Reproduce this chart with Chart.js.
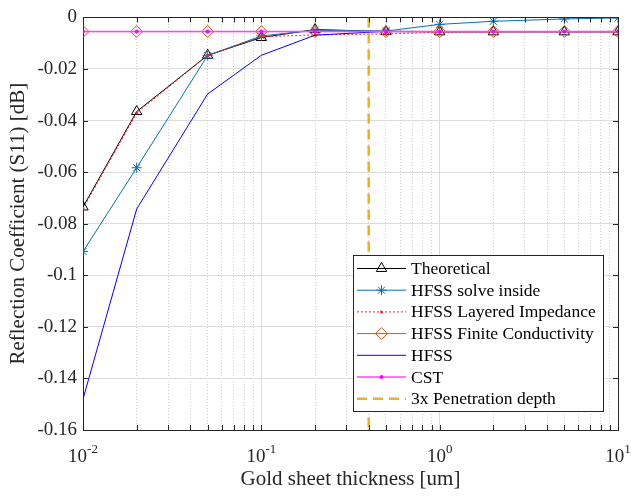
<!DOCTYPE html>
<html>
<head>
<meta charset="utf-8">
<script src="https://cdn.jsdelivr.net/npm/chart.js@4.4.1/dist/chart.umd.min.js"></script>
<style>
html, body { margin: 0; padding: 0; background: #fff; }
</style>
</head>
<body>
<canvas id="canvas" width="631" height="496"></canvas>
<script>
// gold sheet thickness [um]
var thickness = [0.01, 0.02, 0.05, 0.1, 0.2, 0.5, 1, 2, 5, 10];

// S11 [dB] for each series
var theoretical  = [-0.0735, -0.0365, -0.0147, -0.0078, -0.0047, -0.0055, -0.0056, -0.0056, -0.0056, -0.0056];
var solveInside  = [-0.0908, -0.0583, -0.0148, -0.0072, -0.0050, -0.0053, -0.0027, -0.0015, -0.0006, -0.0002];
var layered      = [-0.0742, -0.0371, -0.0147, -0.0075, -0.0068, -0.0064, -0.0058, -0.0056, -0.0056, -0.0056];
var finiteCond   = [-0.0055, -0.0055, -0.0055, -0.0055, -0.0055, -0.0055, -0.0055, -0.0055, -0.0055, -0.0055];
var hfss         = [-0.1480, -0.0743, -0.0297, -0.0147, -0.0069, -0.0054, -0.0055, -0.0055, -0.0055, -0.0055];
var cst          = [-0.0055, -0.0055, -0.0055, -0.0055, -0.0055, -0.0055, -0.0055, -0.0055, -0.0055, -0.0055];

// 3x penetration depth marker
var penX = [0.4, 0.4];
var penY = [0, -0.16];

// ticks
var xMajorTicks = [0.01, 0.1, 1, 10];
var xMajorExp = ['-2', '-1', '0', '1'];
var xMinorTicks = [0.02, 0.03, 0.04, 0.05, 0.06, 0.07, 0.08, 0.09,
                   0.2, 0.3, 0.4, 0.5, 0.6, 0.7, 0.8, 0.9,
                   2, 3, 4, 5, 6, 7, 8, 9];
var yTicks = [0, -0.02, -0.04, -0.06, -0.08, -0.1, -0.12, -0.14, -0.16];

var FONT = 'Liberation Serif';
var AXC = '#262626';

function pts(xs, ys){
    var out = [];
    for(var i = 0; i < xs.length; i++){
        out.push({x: xs[i], y: ys[i]});
    }
    return out;
}

var series = [
    {label: 'Theoretical', data: pts(thickness, theoretical), borderColor: '#000000', borderWidth: 1,
     pointStyle: 'triangle', pointRadius: 6, pointBorderColor: '#000000', pointBackgroundColor: 'rgba(0,0,0,0)', pointBorderWidth: 1},
    {label: 'HFSS solve inside', data: pts(thickness, solveInside), borderColor: '#0072BD', borderWidth: 1,
     pointStyle: 'star', pointRadius: 5, pointBorderColor: '#0072BD', pointBackgroundColor: 'rgba(0,0,0,0)', pointBorderWidth: 1},
    {label: 'HFSS Layered Impedance', data: pts(thickness, layered), borderColor: '#ff2020', borderWidth: 1, borderDash: [2, 2],
     pointStyle: 'circle', pointRadius: 1.5, pointBorderColor: '#ff2020', pointBackgroundColor: '#ff2020', pointBorderWidth: 0},
    {label: 'HFSS Finite Conductivity', data: pts(thickness, finiteCond), borderColor: '#D95319', borderWidth: 1,
     pointStyle: 'rectRot', pointRadius: 6, pointBorderColor: '#D95319', pointBackgroundColor: 'rgba(0,0,0,0)', pointBorderWidth: 1},
    {label: 'HFSS', data: pts(thickness, hfss), borderColor: '#0000ff', borderWidth: 1,
     pointRadius: 0},
    {label: 'CST', data: pts(thickness, cst), borderColor: '#ff44ff', borderWidth: 1.5,
     pointStyle: 'circle', pointRadius: 2, pointBorderColor: '#ff00ff', pointBackgroundColor: '#ff00ff', pointBorderWidth: 0},
    {label: '3x Penetration depth', data: pts(penX, penY), borderColor: '#EDB120', borderWidth: 2.5, borderDash: [10, 6],
     pointRadius: 0}
];

// matlab draws later series on top
for(var i = 0; i < series.length; i++){
    series[i].order = series.length - i;
    series[i].showLine = true;
    series[i].tension = 0;
    series[i].fill = false;
}

var extras = {
    id: 'extras',
    afterDraw: function(chart){
        var ctx = chart.ctx;
        var xs = chart.scales.x, ys = chart.scales.y;
        var a = chart.chartArea;
        ctx.save();

        // inward tick marks on all four sides
        ctx.strokeStyle = AXC;
        ctx.lineWidth = 1;
        ctx.beginPath();
        var allX = xMajorTicks.concat(xMinorTicks);
        for(var i = 0; i < allX.length; i++){
            var px = Math.round(xs.getPixelForValue(allX[i])) + 0.5;
            ctx.moveTo(px, a.bottom); ctx.lineTo(px, a.bottom - 5);
            ctx.moveTo(px, a.top); ctx.lineTo(px, a.top + 5);
        }
        for(var j = 0; j < yTicks.length; j++){
            var py = Math.round(ys.getPixelForValue(yTicks[j])) + 0.5;
            ctx.moveTo(a.left, py); ctx.lineTo(a.left + 5, py);
            ctx.moveTo(a.right, py); ctx.lineTo(a.right - 5, py);
        }
        ctx.stroke();

        // x tick labels 10^n
        ctx.fillStyle = AXC;
        ctx.textBaseline = 'alphabetic';
        for(var k = 0; k < xMajorTicks.length; k++){
            var cx = xs.getPixelForValue(xMajorTicks[k]);
            ctx.font = '19px "' + FONT + '"';
            var wb = ctx.measureText('10').width;
            ctx.font = '13px "' + FONT + '"';
            var we = ctx.measureText(xMajorExp[k]).width;
            var x0 = cx - (wb + we) / 2;
            ctx.font = '19px "' + FONT + '"';
            ctx.textAlign = 'left';
            ctx.fillText('10', x0, 462);
            ctx.font = '13px "' + FONT + '"';
            ctx.fillText(xMajorExp[k], x0 + wb, 453);
        }

        // legend box
        var lx = 353, ly = 255, lw = 250, lh = 156;
        ctx.fillStyle = '#ffffff';
        ctx.fillRect(lx, ly, lw, lh);
        ctx.strokeStyle = AXC;
        ctx.lineWidth = 1;
        ctx.strokeRect(lx + 0.5, ly + 0.5, lw, lh);

        var rowH = 21.7;
        for(var r = 0; r < series.length; r++){
            var s = series[r];
            var yy = ly + 13.5 + r * rowH;
            ctx.save();
            ctx.strokeStyle = s.borderColor;
            ctx.lineWidth = s.borderWidth;
            ctx.setLineDash(s.borderDash || []);
            ctx.beginPath();
            ctx.moveTo(357, yy); ctx.lineTo(406, yy);
            ctx.stroke();
            ctx.setLineDash([]);
            if(s.pointRadius > 0){
                ctx.strokeStyle = s.pointBorderColor;
                ctx.fillStyle = s.pointBackgroundColor;
                ctx.lineWidth = s.pointBorderWidth;
                Chart.helpers.drawPoint(ctx, {pointStyle: s.pointStyle, radius: s.pointRadius,
                    borderWidth: s.pointBorderWidth, rotation: 0}, 381.5, yy);
            }
            ctx.restore();
            ctx.fillStyle = '#000000';
            ctx.font = '17.5px "' + FONT + '"';
            ctx.textAlign = 'left';
            ctx.textBaseline = 'middle';
            ctx.fillText(s.label, 411, yy + 1);
        }
        ctx.restore();
    }
};

var config = {
    type: 'scatter',
    data: {datasets: series},
    options: {
        responsive: false,
        animation: false,
        devicePixelRatio: 1,
        layout: {padding: {left: 0, right: 13, top: 12, bottom: 0}},
        plugins: {legend: {display: false}, tooltip: {enabled: false}},
        scales: {
            x: {
                type: 'logarithmic', position: 'bottom', min: 0.01, max: 10,
                afterBuildTicks: function(s){ s.ticks = xMajorTicks.map(function(v){ return {value: v}; }); },
                ticks: {display: false},
                grid: {color: '#dcdcdc', drawTicks: false},
                border: {color: AXC, width: 1},
                title: {display: true, text: 'Gold sheet thickness [um]', color: AXC,
                        font: {family: FONT, size: 21}, padding: {top: 0, bottom: 4}},
                afterFit: function(s){ s.height = 66; }
            },
            xMinor: {
                type: 'logarithmic', position: 'top', min: 0.01, max: 10,
                afterBuildTicks: function(s){ s.ticks = xMinorTicks.map(function(v){ return {value: v}; }); },
                ticks: {display: false},
                grid: {color: '#cfcfcf', drawTicks: false},
                border: {color: AXC, width: 1, dash: [1, 2]},
                afterFit: function(s){ s.height = 0; }
            },
            y: {
                type: 'linear', position: 'left', min: -0.16, max: 0,
                afterBuildTicks: function(s){ s.ticks = yTicks.map(function(v){ return {value: v}; }); },
                ticks: {
                    color: AXC, padding: 6, font: {family: FONT, size: 19},
                    callback: function(v){ return v === 0 ? '0' : String(+v.toFixed(2)); }
                },
                grid: {color: '#dcdcdc', drawTicks: false},
                border: {color: AXC, width: 1},
                title: {display: true, text: 'Reflection Coefficient (S11) [dB]', color: AXC,
                        font: {family: FONT, size: 21}, padding: {top: 6, bottom: 0}},
                afterFit: function(s){ s.width = 83; }
            },
            yRight: {
                type: 'linear', position: 'right', min: -0.16, max: 0,
                ticks: {display: false},
                grid: {display: false, drawTicks: false},
                border: {color: AXC, width: 1},
                afterFit: function(s){ s.width = 0; }
            }
        }
    },
    plugins: [extras]
};

var ctx = document.getElementById('canvas').getContext('2d');
var chart = new Chart(ctx, config);
</script>
</body>
</html>
